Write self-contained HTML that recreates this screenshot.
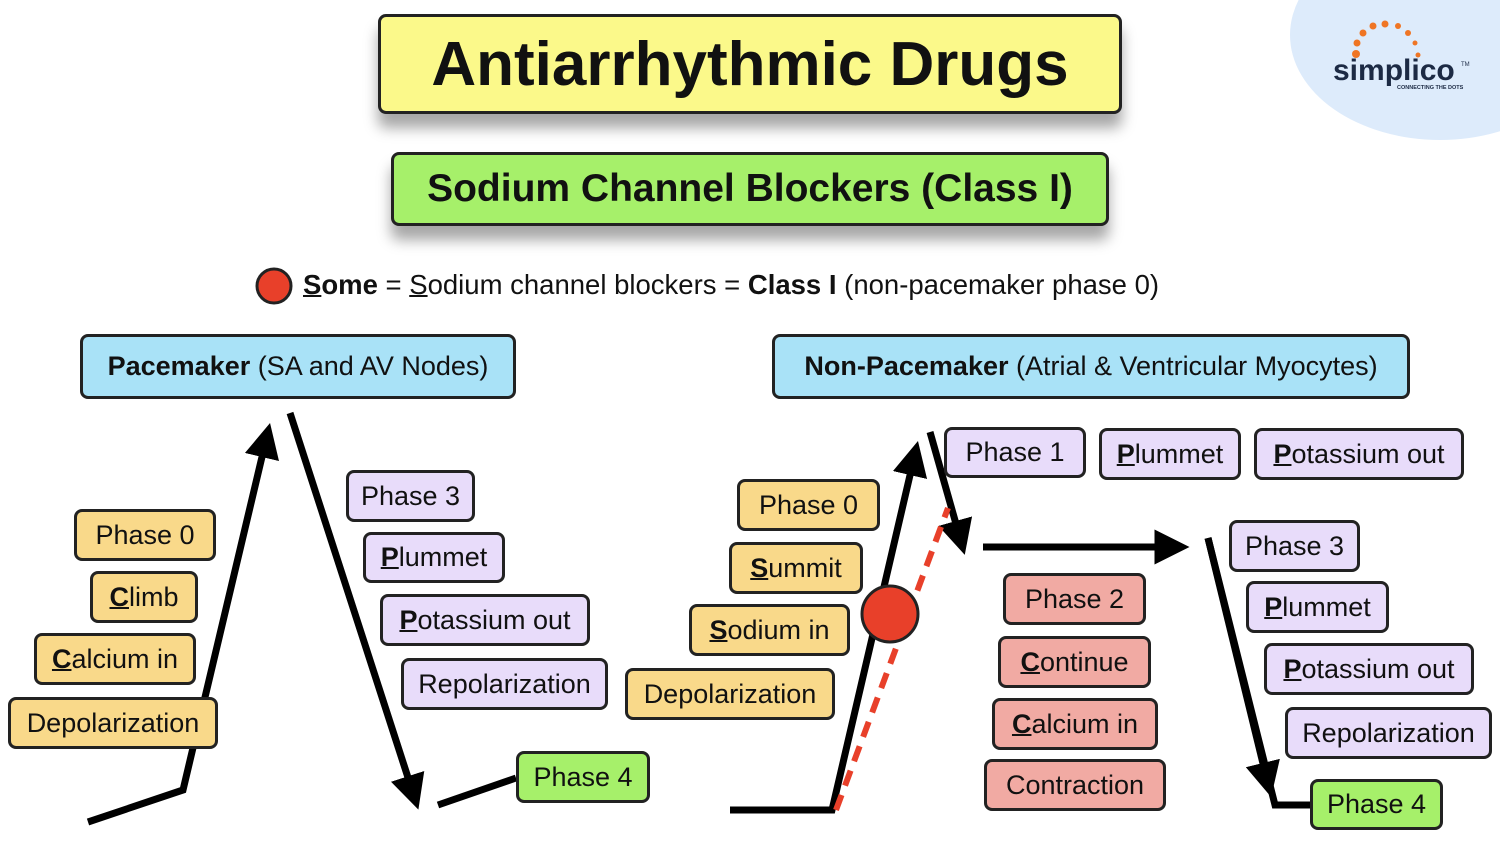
<!DOCTYPE html>
<html><head><meta charset="utf-8"><style>
body{margin:0;width:1500px;height:844px;background:#fff;position:relative;overflow:hidden;font-family:"Liberation Sans",sans-serif;color:#111}
.b{position:absolute;box-sizing:border-box;border:3px solid #222;border-radius:8px;display:flex;align-items:center;justify-content:center;font-size:27px;white-space:nowrap}
.o{background:#f9d98a}.p{background:#e8dcfa}.r{background:#f1aaa3}.g{background:#a6f06a}.bl{background:#a9e2f7}
u{text-decoration-thickness:2px;font-weight:bold}
</style></head><body>
<div style="position:absolute;left:1290px;top:-70px;width:300px;height:210px;border-radius:50%;background:#ddebfb"></div>
<svg style="position:absolute;left:0;top:0" width="1500" height="844">
<g fill="#ef7524"><circle cx="1356" cy="54" r="4"/><circle cx="1357" cy="43" r="3.5"/><circle cx="1363" cy="33" r="3.5"/><circle cx="1373" cy="26" r="3.5"/><circle cx="1385" cy="24" r="3.5"/><circle cx="1398" cy="26" r="3"/><circle cx="1408" cy="33" r="3"/><circle cx="1415" cy="43" r="2.5"/><circle cx="1418" cy="55" r="2.5"/></g>
<text x="1333" y="80" font-family="Liberation Sans" font-weight="bold" font-size="30" fill="#1c2a44">simplico</text>
<text x="1461" y="66" font-size="6" fill="#1c2a44">TM</text>
<text x="1397" y="89" font-size="5.5" font-weight="bold" fill="#1c2a44">CONNECTING THE DOTS</text>
<defs><marker id="a" markerWidth="5" markerHeight="5" refX="2.5" refY="2.5" orient="auto" markerUnits="strokeWidth"><path d="M0,0L5,2.5L0,5z" fill="#000"/></marker></defs>
<g stroke="#000" stroke-width="7" fill="none">
<polyline points="88,822 183,790 266,440" marker-end="url(#a)"/>
<line x1="290" y1="413" x2="413" y2="793" marker-end="url(#a)"/>
<line x1="438" y1="805" x2="516" y2="778"/>
<polyline points="730,810 832,810 914,458" marker-end="url(#a)"/>
<line x1="930" y1="432" x2="960" y2="538" marker-end="url(#a)"/>
<line x1="983" y1="547" x2="1172" y2="547" marker-end="url(#a)"/>
<polyline points="1208,538 1275,805 1310,805"/>
<line x1="1208" y1="538" x2="1267" y2="780" marker-end="url(#a)"/>
</g>
<line x1="836" y1="810" x2="948" y2="508" stroke="#e8402a" stroke-width="6" stroke-dasharray="16,10"/>
<circle cx="890" cy="614" r="28" fill="#e8402a" stroke="#222" stroke-width="3"/>
<circle cx="274" cy="286" r="17" fill="#e8402a" stroke="#222" stroke-width="3"/>
</svg>
<div class="b" style="left:378px;top:14px;width:744px;height:100px;background:#fbf98a;font-size:62px;font-weight:bold;box-shadow:0 14px 14px rgba(0,0,0,.35)">Antiarrhythmic Drugs</div>
<div class="b g" style="left:391px;top:152px;width:718px;height:74px;font-size:39px;font-weight:bold;box-shadow:0 14px 14px rgba(0,0,0,.35)">Sodium Channel Blockers (Class I)</div>
<div style="position:absolute;left:303px;top:269px;font-size:27.5px"><u>S</u><b>ome</b> = <u style="font-weight:normal">S</u>odium channel blockers = <b>Class I</b> (non-pacemaker phase 0)</div>
<div class="b bl" style="left:80px;top:334px;width:436px;height:65px"><b>Pacemaker</b>&nbsp;(SA and AV Nodes)</div>
<div class="b bl" style="left:772px;top:334px;width:638px;height:65px"><b>Non-Pacemaker</b>&nbsp;(Atrial &amp; Ventricular Myocytes)</div>
<div class="b o" style="left:74px;top:509px;width:142px;height:52px">Phase 0</div>
<div class="b o" style="left:90px;top:571px;width:108px;height:52px"><u>C</u>limb</div>
<div class="b o" style="left:34px;top:633px;width:162px;height:52px"><u>C</u>alcium in</div>
<div class="b o" style="left:8px;top:697px;width:210px;height:52px">Depolarization</div>
<div class="b p" style="left:346px;top:470px;width:129px;height:52px">Phase 3</div>
<div class="b p" style="left:363px;top:532px;width:142px;height:51px"><u>P</u>lummet</div>
<div class="b p" style="left:380px;top:594px;width:210px;height:52px"><u>P</u>otassium out</div>
<div class="b p" style="left:401px;top:658px;width:207px;height:52px">Repolarization</div>
<div class="b g" style="left:516px;top:751px;width:134px;height:52px">Phase 4</div>
<div class="b o" style="left:737px;top:479px;width:143px;height:52px">Phase 0</div>
<div class="b o" style="left:729px;top:542px;width:134px;height:52px"><u>S</u>ummit</div>
<div class="b o" style="left:689px;top:604px;width:161px;height:52px"><u>S</u>odium in</div>
<div class="b o" style="left:625px;top:668px;width:210px;height:52px">Depolarization</div>
<div class="b p" style="left:944px;top:427px;width:142px;height:51px">Phase 1</div>
<div class="b p" style="left:1099px;top:428px;width:142px;height:52px"><u>P</u>lummet</div>
<div class="b p" style="left:1254px;top:428px;width:210px;height:52px"><u>P</u>otassium out</div>
<div class="b r" style="left:1003px;top:573px;width:143px;height:52px">Phase 2</div>
<div class="b r" style="left:998px;top:636px;width:153px;height:52px"><u>C</u>ontinue</div>
<div class="b r" style="left:992px;top:698px;width:166px;height:52px"><u>C</u>alcium in</div>
<div class="b r" style="left:984px;top:759px;width:182px;height:52px">Contraction</div>
<div class="b p" style="left:1229px;top:520px;width:131px;height:52px">Phase 3</div>
<div class="b p" style="left:1246px;top:581px;width:143px;height:52px"><u>P</u>lummet</div>
<div class="b p" style="left:1264px;top:643px;width:210px;height:52px"><u>P</u>otassium out</div>
<div class="b p" style="left:1285px;top:707px;width:207px;height:52px">Repolarization</div>
<div class="b g" style="left:1310px;top:779px;width:133px;height:51px">Phase 4</div>
</body></html>
